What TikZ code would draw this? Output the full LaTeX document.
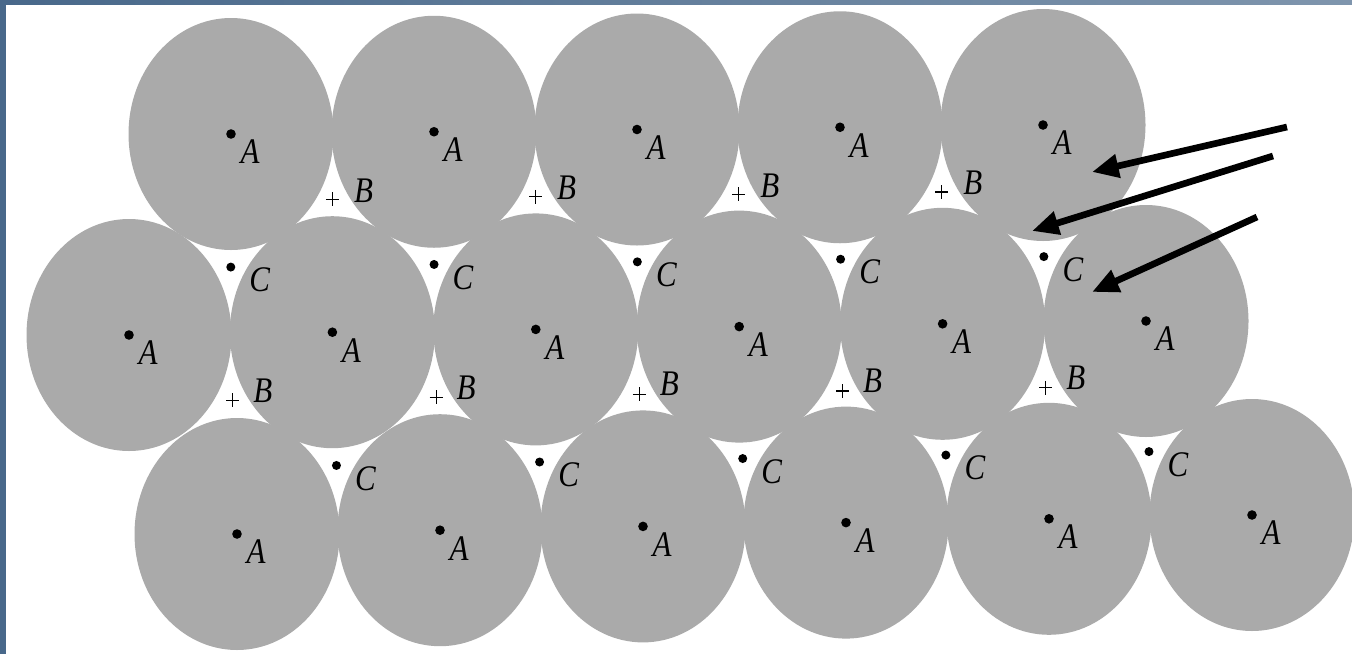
\documentclass[tikz,border=0pt]{standalone}
\usepackage{graphicx}
\usepackage{fontspec}
\setmainfont{Liberation Serif}
\usetikzlibrary{arrows.meta}
\definecolor{atomgray}{RGB}{170,170,170}
\definecolor{frameblue}{RGB}{72,104,138}
\newcommand{\site}[1]{\scalebox{0.86}[1]{\itshape #1}}
\tikzset{
    atom/.style={fill=atomgray, draw=none},
    lbl/.style={font=\fontsize{27}{27}\selectfont, inner sep=0pt},
    hole/.style={fill=black},
    bigarrow/.style={line width=5pt, -{Triangle[length=20pt,width=17pt]}},
}
\begin{document}
\begin{tikzpicture}[x=0.75pt,y=0.75pt,yscale=-1,xscale=1]
    \useasboundingbox (0,0) rectangle (1352,654);
    \fill[white] (0,0) rectangle (1352,654);
    % three rows of spheres (layer A)
    \foreach \i in {1,...,5} \coordinate (r1-\i) at ({231+203*(\i-1)},{134-2.25*(\i-1)});
    \foreach \i in {1,...,6} \coordinate (r2-\i) at ({129+203.4*(\i-1)},{335-2.8*(\i-1)});
    \foreach \i in {1,...,6} \coordinate (r3-\i) at ({237+203*(\i-1)},{534-3.8*(\i-1)});
    \begin{scope}
        \clip (0,0) rectangle (1352,654);
        \foreach \r/\n in {1/5,2/6,3/6}
            \foreach \i in {1,...,\n}
                \fill[atom] (r\r-\i) ellipse [x radius=102.5, y radius=116];
    \end{scope}
    % frame
    \fill[frameblue] (0,0) rectangle (6,654);
    \shade[left color=frameblue, right color=frameblue!70!white] (0,0) rectangle (1352,4);
    % A positions
    \foreach \r/\n in {1/5,2/6,3/6}
        \foreach \i in {1,...,\n} {
            \fill[hole] (r\r-\i) circle [radius=4.8];
            \path (r\r-\i) ++(19,18) node[lbl] (a\r-\i) {\site{A}};
        }
    % B and C holes between rows 1 and 2
    \foreach \i [evaluate=\i as \j using int(\i+1)] in {1,...,4} {
        \coordinate (b1-\i) at (barycentric cs:r1-\i=1,r1-\j=1,r2-\j=1);
        \draw[line width=0.8pt] (b1-\i) +(-6.5,0) -- +(6.5,0) (b1-\i) +(0,-7) -- +(0,7);
        \path (b1-\i) ++(31,-9) node[lbl] (lb1-\i) {\site{B}};
    }
    \foreach \i [evaluate=\i as \j using int(\i+1)] in {1,...,5} {
        \coordinate (c1-\i) at (barycentric cs:r1-\i=1,r2-\i=1,r2-\j=1);
        \fill[hole] (c1-\i) circle [radius=4.5];
        \path (c1-\i) ++(29,13) node[lbl] (lc1-\i) {\site{C}};
    }
    % B and C holes between rows 2 and 3
    \foreach \i [evaluate=\i as \j using int(\i+1)] in {1,...,5} {
        \coordinate (b2-\i) at (barycentric cs:r2-\i=1,r2-\j=1,r3-\i=1);
        \draw[line width=0.8pt] (b2-\i) +(-6.5,0) -- +(6.5,0) (b2-\i) +(0,-7) -- +(0,7);
        \path (b2-\i) ++(30,-10) node[lbl] (lb2-\i) {\site{B}};
        \coordinate (c2-\i) at (barycentric cs:r2-\j=1,r3-\i=1,r3-\j=1);
        \fill[hole] (c2-\i) circle [radius=4.5];
        \path (c2-\i) ++(29,13) node[lbl] (lc2-\i) {\site{C}};
    }
    % arrows
    \coordinate (s1) at (1287,127);
    \coordinate (t1) at (1092,172);
    \coordinate (s2) at (1273,156);
    \coordinate (t2) at (1032,231);
    \coordinate (s3) at (1257,217);
    \coordinate (t3) at (1092,292);
    \draw[bigarrow] (s1) -- (t1);
    \draw[bigarrow] (s2) -- (t2);
    \draw[bigarrow] (s3) -- (t3);
\end{tikzpicture}
\end{document}
